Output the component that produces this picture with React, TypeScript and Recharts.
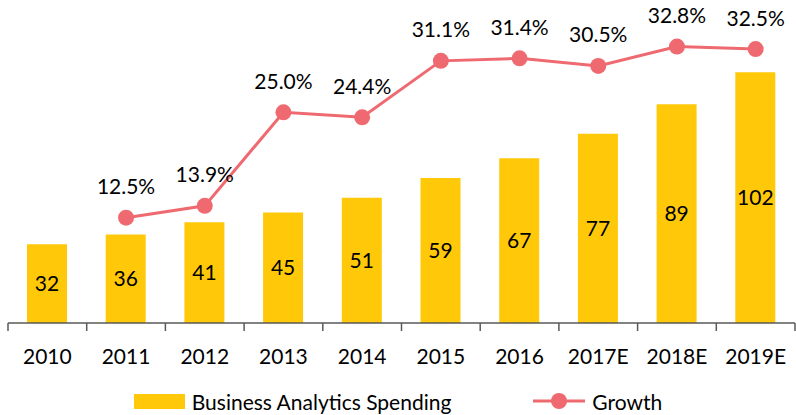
import React from 'react';
import { ComposedChart, Bar, Line, XAxis, YAxis, Legend, LabelList } from 'recharts';

const years = ['2010', '2011', '2012', '2013', '2014', '2015', '2016', '2017E', '2018E', '2019E'];
const spending = [32, 36, 41, 45, 51, 59, 67, 77, 89, 102];
const growth = [null, 12.5, 13.9, 25.0, 24.4, 31.1, 31.4, 30.5, 32.8, 32.5];

const data = years.map((year, i) => ({ year, spending: spending[i], growth: growth[i] }));

const W = 796;
const H = 415;
const MARGIN = { top: 28, right: 1, left: 8, bottom: 28 };
const STEP = (W - MARGIN.left - MARGIN.right) / years.length;

const FONT = 'Lato, "Liberation Sans", sans-serif';
const FS = 21;
const BAR_COLOR = '#FFC90A';
const LINE_COLOR = '#EF6A70';
const AXIS_COLOR = '#595959';

// category label in the middle, tick marks on the category edges
const CategoryTick: React.FC<any> = ({ x, y, payload, index }) => (
  <g>
    <line x1={x - STEP / 2} x2={x - STEP / 2} y1={y} y2={y + 8} stroke={AXIS_COLOR} strokeWidth={1.5} />
    {index === years.length - 1 && (
      <line x1={x + STEP / 2} x2={x + STEP / 2} y1={y} y2={y + 8} stroke={AXIS_COLOR} strokeWidth={1.5} />
    )}
    <text x={x} y={y + 32} textAnchor="middle" dominantBaseline="central" fontSize={FS} fontFamily={FONT} fill="#000">
      {payload.value}
    </text>
  </g>
);

const GrowthLabel: React.FC<any> = ({ x, y, value }) => {
  if (value == null) return null;
  return (
    <text x={x} y={y - 32} textAnchor="middle" dominantBaseline="central" fontSize={FS} fontFamily={FONT} fill="#000">
      {`${Number(value).toFixed(1)}%`}
    </text>
  );
};

const LegendContent: React.FC<any> = () => (
  <div style={{ display: 'flex', justifyContent: 'center', alignItems: 'center', width: W, height: 24, fontFamily: FONT, fontSize: FS, color: '#000' }}>
    <span style={{ display: 'inline-block', width: 51, height: 15, background: BAR_COLOR, marginRight: 7 }} />
    <span>Business Analytics Spending</span>
    <svg width={52} height={18} style={{ marginLeft: 82, marginRight: 7 }}>
      <line x1={0} x2={52} y1={9} y2={9} stroke={LINE_COLOR} strokeWidth={3} />
      <circle cx={26} cy={9} r={8} fill={LINE_COLOR} />
    </svg>
    <span>Growth</span>
  </div>
);

export default function App() {
  return (
    <div style={{ position: 'fixed', left: 0, top: 0, width: W, height: H, background: '#fff' }}>
      <ComposedChart width={W} height={H} data={data} margin={MARGIN}>
        <XAxis
          dataKey="year"
          axisLine={{ stroke: AXIS_COLOR, strokeWidth: 1.5 }}
          tickLine={false}
          tickSize={0}
          tickMargin={0}
          height={40}
          tick={<CategoryTick />}
          interval={0}
        />
        <YAxis yAxisId="left" hide domain={[0, 120]} />
        <YAxis yAxisId="right" orientation="right" hide domain={[0, 35]} />
        <Legend
          verticalAlign="bottom"
          content={<LegendContent />}
          wrapperStyle={{ top: 389, left: 0, bottom: 'auto', width: W, height: 24 }}
        />
        <Bar yAxisId="left" dataKey="spending" fill={BAR_COLOR} barSize={40} isAnimationActive={false}>
          <LabelList dataKey="spending" position="center" fontSize={FS} fontFamily={FONT} fill="#000" />
        </Bar>
        <Line
          yAxisId="right"
          dataKey="growth"
          stroke={LINE_COLOR}
          strokeWidth={3}
          dot={{ r: 8, fill: LINE_COLOR, stroke: LINE_COLOR, strokeWidth: 0 }}
          activeDot={false}
          connectNulls={false}
          isAnimationActive={false}
        >
          <LabelList dataKey="growth" content={<GrowthLabel />} />
        </Line>
      </ComposedChart>
    </div>
  );
}
